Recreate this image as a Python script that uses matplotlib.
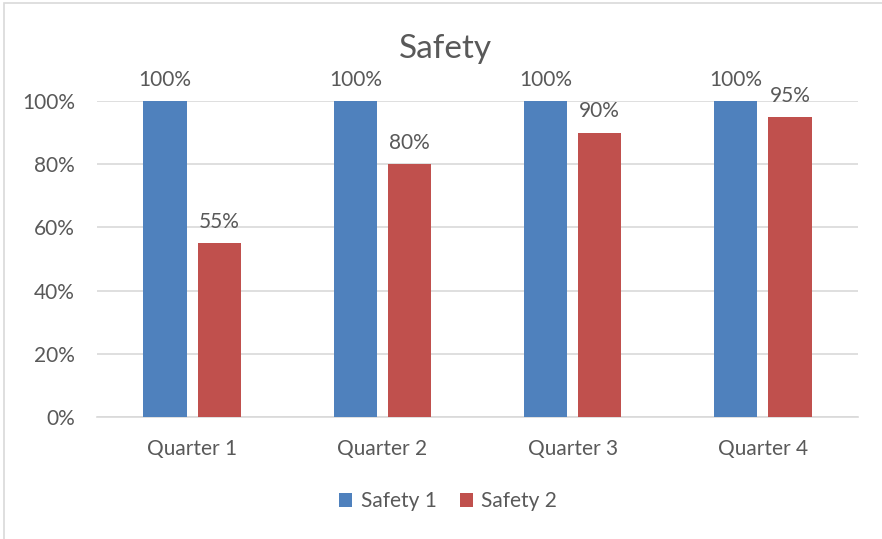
import numpy as np
import matplotlib
matplotlib.use("Agg")
import matplotlib.pyplot as plt
from matplotlib.patches import Rectangle
from matplotlib.ticker import PercentFormatter

categories = ["Quarter 1", "Quarter 2", "Quarter 3", "Quarter 4"]
safety_1 = [1.00, 1.00, 1.00, 1.00]
safety_2 = [0.55, 0.80, 0.90, 0.95]
series_names = ["Safety 1", "Safety 2"]

plt.rcParams["font.family"] = ["Lato", "DejaVu Sans"]
TEXT = "#595959"
colors = ["#4F81BD", "#C0504D"]

fig = plt.figure(figsize=(8.82, 5.39), dpi=100)
ax = fig.add_axes([0.11, 0.2263, 0.8628, 0.5863])

# light chart border (left and top visible)
fig.patches.append(Rectangle((4 / 882, -0.1), 1.2, (539 - 3) / 539 + 0.1,
                             transform=fig.transFigure, fill=False,
                             edgecolor="#D9D9D9", linewidth=1.2))

x = np.arange(len(categories))
w = 0.228
off = 0.1425
for vals, name, c, dx in zip([safety_1, safety_2], series_names, colors, [-off, off]):
    bars = ax.bar(x + dx, vals, width=w, color=c, label=name, zorder=3)
    for b, v in zip(bars, vals):
        ax.annotate(f"{v:.0%}", (b.get_x() + b.get_width() / 2, v),
                    xytext=(0, 8), textcoords="offset points",
                    ha="center", va="bottom", fontsize=15, color=TEXT)

ax.set_xlim(-0.5, len(categories) - 0.5)
ax.set_ylim(0, 1)
ax.set_yticks(np.arange(0, 1.01, 0.2))
ax.yaxis.set_major_formatter(PercentFormatter(1.0, decimals=0))
ax.set_xticks(x)
ax.set_xticklabels(categories)
ax.tick_params(axis="both", length=0, labelsize=15, labelcolor=TEXT)
ax.tick_params(axis="x", pad=16)
ax.tick_params(axis="y", pad=16)
ax.grid(axis="y", color="#D9D9D9", linewidth=1.2, zorder=0)
for s in ["top", "right", "left"]:
    ax.spines[s].set_visible(False)
ax.spines["bottom"].set_color("#D9D9D9")
ax.spines["bottom"].set_linewidth(1.2)

fig.text(0.505, 0.91, "Safety", ha="center", va="center", fontsize=24, color=TEXT)

fig.legend(loc="center", bbox_to_anchor=(0.508, 0.07), ncol=2, frameon=False,
           fontsize=15, labelcolor=TEXT, handlelength=0.65, handleheight=0.65,
           handletextpad=0.4, columnspacing=1.1)

fig.savefig("out.png", dpi=100)
